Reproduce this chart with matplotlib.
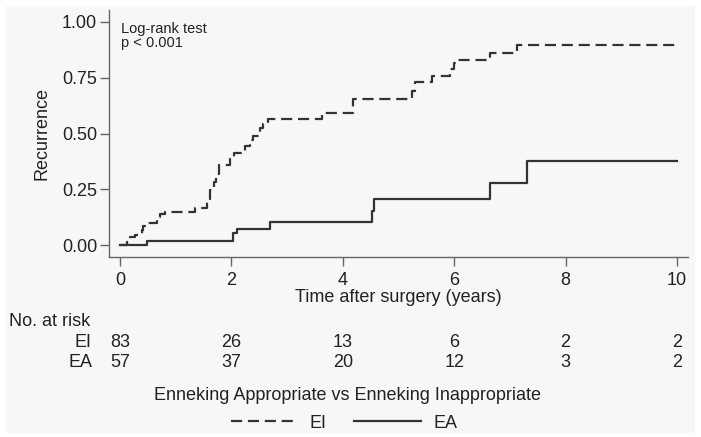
import matplotlib
matplotlib.use("Agg")
import matplotlib.pyplot as plt
import matplotlib.transforms as mtransforms
from matplotlib.patches import Rectangle

# Kaplan-Meier style cumulative recurrence
ei_time = [0, 0.12, 0.18, 0.27, 0.39, 0.42, 0.48, 0.66, 0.72, 0.81, 1.35, 1.56, 1.62,
           1.68, 1.72, 1.77, 1.98, 2.04, 2.25, 2.34, 2.39, 2.51, 2.57, 2.66, 3.62,
           4.19, 5.24, 5.30, 5.60, 5.93, 6.00, 6.07, 6.65, 7.12, 10.0]
ei_recur = [0, 0.015, 0.034, 0.045, 0.067, 0.085, 0.10, 0.126, 0.138, 0.149, 0.168, 0.20,
            0.245, 0.283, 0.32, 0.36, 0.387, 0.412, 0.442, 0.469, 0.491, 0.525, 0.543,
            0.563, 0.59, 0.655, 0.692, 0.729, 0.759, 0.789, 0.818, 0.829, 0.863, 0.897,
            0.897]

ea_time = [0, 0.48, 2.03, 2.10, 2.69, 4.52, 4.56, 6.64, 7.31, 10.0]
ea_recur = [0, 0.018, 0.052, 0.074, 0.104, 0.152, 0.205, 0.278, 0.378, 0.378]

risk_times = [0, 2, 4, 6, 8, 10]
risk_ei = [83, 26, 13, 6, 2, 2]
risk_ea = [57, 37, 20, 12, 3, 2]

W, H = 701, 437
bg = "#f7f7f7"
ink = "#333333"
axcol = "#666666"

plt.rcParams["font.family"] = ["Liberation Sans", "DejaVu Sans"]

fig = plt.figure(figsize=(W / 100, H / 100), dpi=100, facecolor="white")
fig.patches.append(Rectangle((6 / W, 4 / H), 689 / W, 427 / H, transform=fig.transFigure,
                             facecolor=bg, edgecolor="none", zorder=-10))

ax = fig.add_axes([109 / W, 1 - 257 / H, 579 / W, 247 / H])
ax.set_facecolor(bg)
ax.patch.set_alpha(0)

ax.step(ei_time, ei_recur, where="post", color=ink, lw=1.6, dashes=(5, 2.6))
ax.step(ea_time, ea_recur, where="post", color=ink, lw=1.6)

ax.set_xlim(-11 / 55.67, 10 + 11 / 55.67)
ax.set_ylim(-12 / 224, 1 + 12 / 224)
ax.set_xticks(risk_times)
ax.set_yticks([0, 0.25, 0.5, 0.75, 1.0])
ax.set_yticklabels(["0.00", "0.25", "0.50", "0.75", "1.00"])

for s in ["top", "right"]:
    ax.spines[s].set_visible(False)
for s in ["left", "bottom"]:
    ax.spines[s].set_color(axcol)
    ax.spines[s].set_linewidth(1.0)
ax.tick_params(axis="both", colors=axcol, labelcolor="#222222", labelsize=13, length=6.5, width=1.0)
ax.tick_params(axis="y", pad=2)
ax.tick_params(axis="x", pad=4)

ax.set_xlabel("Time after surgery (years)", fontsize=13, color="#222222", va="center")
ax.xaxis.set_label_coords(0.5, -(297.7 - 257) / 247)
ax.set_ylabel("Recurrence", fontsize=13, color="#222222", va="center")
ax.yaxis.set_label_coords(-(109 - 42) / 579, 0.5)

fig.text(121 / W, 1 - 29 / H, "Log-rank test", fontsize=10.5, color="#222222", va="center")
fig.text(121 / W, 1 - 43.5 / H, "p < 0.001", fontsize=10.5, color="#222222", va="center")

# number at risk table
tr = mtransforms.blended_transform_factory(ax.transData, fig.transFigure)
fig.text(9 / W, 1 - 321 / H, "No. at risk", fontsize=13, color="#222222", va="center")
fig.text(92 / W, 1 - 342.5 / H, "EI", fontsize=13, color="#222222", va="center", ha="right")
fig.text(92 / W, 1 - 362.5 / H, "EA", fontsize=13, color="#222222", va="center", ha="right")
for t, a, b in zip(risk_times, risk_ei, risk_ea):
    fig.text(t, 1 - 342.5 / H, str(a), transform=tr, fontsize=13, color="#222222",
             va="center", ha="center")
    fig.text(t, 1 - 362.5 / H, str(b), transform=tr, fontsize=13, color="#222222",
             va="center", ha="center")

# legend
fig.text(347.5 / W, 1 - 395 / H, "Enneking Appropriate vs Enneking Inappropriate",
         fontsize=13, color="#222222", va="center", ha="center")
h1, = ax.plot([], [], color=ink, lw=1.6, dashes=(5, 2.6), label="EI")
h2, = ax.plot([], [], color=ink, lw=1.6, label="EA")
fig.legend(handles=[h1, h2], loc="center", bbox_to_anchor=(344 / W, 1 - 423 / H), ncol=2,
           frameon=False, fontsize=13, handlelength=3.7, handletextpad=0.7,
           columnspacing=1.5, labelcolor="#222222", borderpad=0, borderaxespad=0)

fig.savefig("out.png", dpi=100, facecolor=fig.get_facecolor())
